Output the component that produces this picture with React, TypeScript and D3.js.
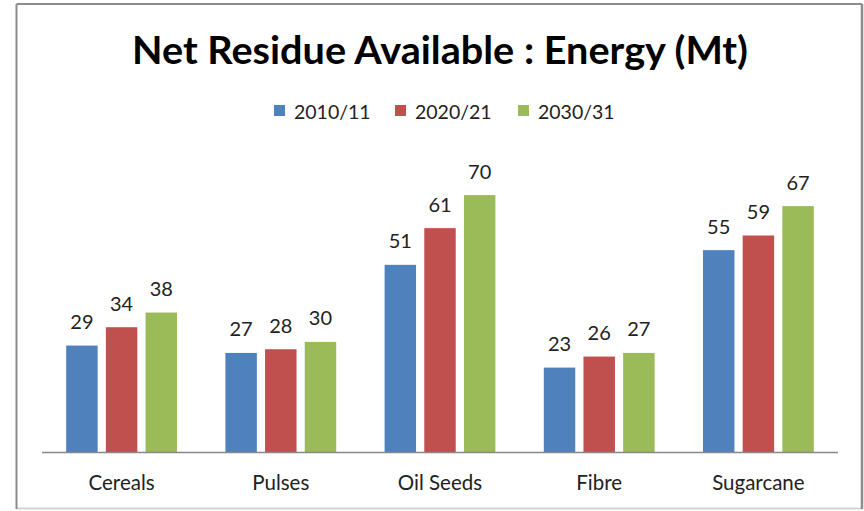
import React from "react";
import * as d3 from "d3";

const categories = ["Cereals", "Pulses", "Oil Seeds", "Fibre", "Sugarcane"];
const seriesNames = ["2010/11", "2020/21", "2030/31"];
const values2010 = [29, 27, 51, 23, 55];
const values2020 = [34, 28, 61, 26, 59];
const values2030 = [38, 30, 70, 27, 67];
const seriesColors = ["#4F81BD", "#C0504D", "#9BBB59"];
const titleText = "Net Residue Available : Energy (Mt)";

const W = 864;
const H = 511;
const FONT = "Lato, 'Open Sans', sans-serif";

export default function App() {
  const seriesValues = [values2010, values2020, values2030];
  const x0 = d3.scaleBand<string>().domain(categories).range([42, 838]).padding(0);
  const x1 = d3
    .scaleBand<string>()
    .domain(seriesNames)
    .range([0, x0.bandwidth()])
    .paddingInner(0.207)
    .paddingOuter(0.61);
  const y = d3.scaleLinear().domain([0, 80]).range([452, 158.4]);

  const legendX = d3.scaleOrdinal<string, number>().domain(seriesNames).range([274, 395, 518]);

  return (
    <svg
      width={W}
      height={H}
      style={{ position: "absolute", left: 0, top: 0, background: "#fff" }}
      fontFamily={FONT}
    >
      <rect x={0} y={0} width={W} height={H} fill="#fff" />
      <line x1={16.5} y1={508.5} x2={862} y2={508.5} stroke="#d4d4d4" strokeWidth={2} />
      <line x1={16.5} y1={4} x2={862} y2={4} stroke="#8c8c8c" strokeWidth={2} />
      <line x1={16.5} y1={4} x2={16.5} y2={509} stroke="#8c8c8c" strokeWidth={2} />
      <line x1={862} y1={4} x2={862} y2={509} stroke="#8c8c8c" strokeWidth={2.5} />

      <text
        x={440}
        y={64}
        textAnchor="middle"
        fontSize={39}
        fontWeight="bold"
        fill="#000"
        textLength={616}
        lengthAdjust="spacingAndGlyphs"
      >
        {titleText}
      </text>

      {seriesNames.map((s, i) => (
        <g key={s}>
          <rect x={legendX(s)} y={105} width={11} height={11} fill={seriesColors[i]} />
          <text x={legendX(s) + 20} y={119} fontSize={19.5} fill="#222">
            {s}
          </text>
        </g>
      ))}

      {categories.map((c, ci) => (
        <g key={c} transform={`translate(${x0(c)},0)`}>
          {seriesNames.map((s, si) => {
            const v = seriesValues[si][ci];
            const bx = x1(s)!;
            return (
              <g key={s}>
                <rect x={bx} y={y(v)} width={x1.bandwidth()} height={y(0) - y(v)} fill={seriesColors[si]} />
                <text
                  x={bx + x1.bandwidth() / 2}
                  y={y(v) - 16.5}
                  textAnchor="middle"
                  fontSize={20}
                  fill="#222"
                >
                  {v}
                </text>
              </g>
            );
          })}
          <text x={x0.bandwidth() / 2} y={490} textAnchor="middle" fontSize={20.5} fill="#222">
            {c}
          </text>
        </g>
      ))}

      <line x1={42} y1={452.5} x2={838} y2={452.5} stroke="#888" strokeWidth={1.5} />
    </svg>
  );
}
